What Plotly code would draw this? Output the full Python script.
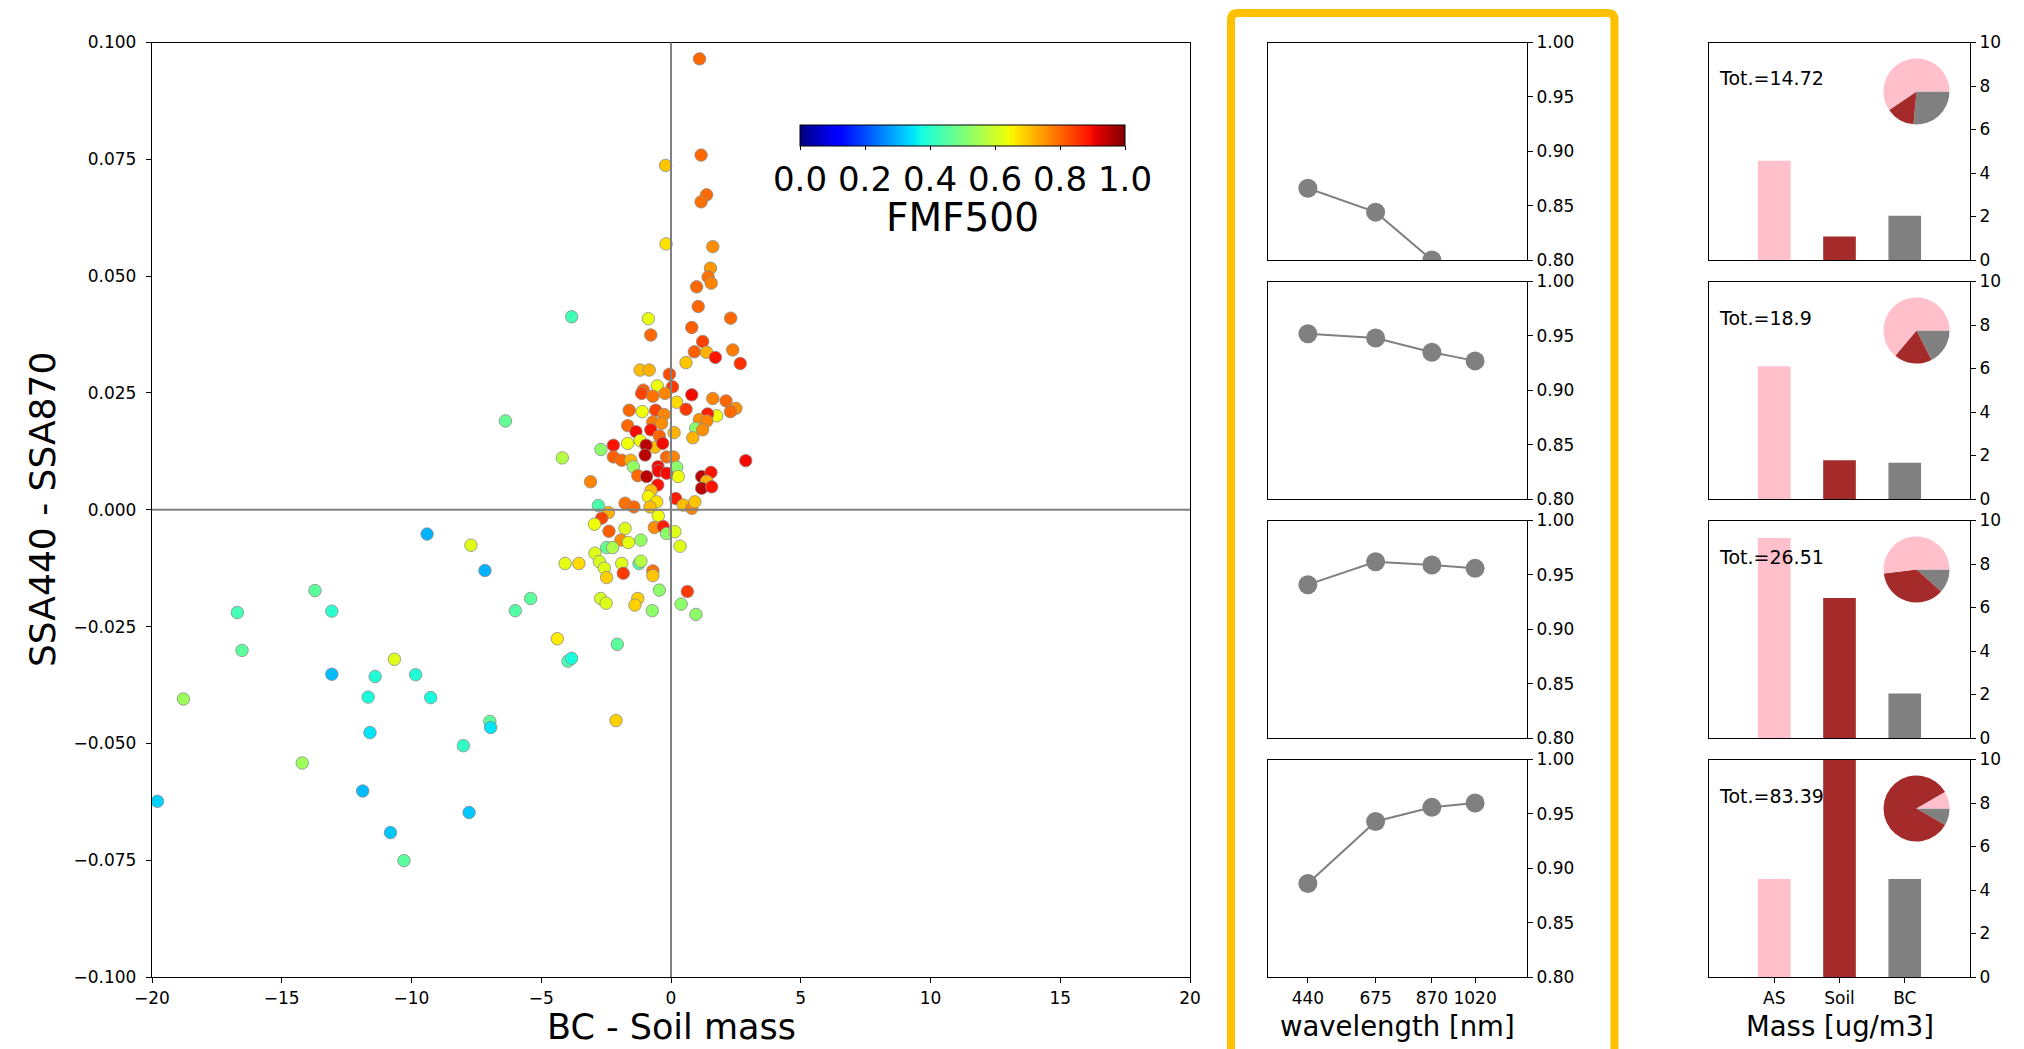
import numpy as np
import plotly.graph_objects as go

# ---------------- data ----------------
# Scatter: BC - Soil mass (x), SSA440 - SSA870 (y), coloured by FMF500
bc_minus_soil = [
    1.10, -0.21, 1.16, 1.37, 1.16, -0.19, 1.61, 1.52, 1.43, 1.55, 0.99,
    -0.87, -0.78, 1.05, 2.30, 0.80, 1.22, 0.90, 1.37, 1.71, 2.38, 2.67, 0.58,
    -1.19, -0.84, -0.06, -0.53, 0.06, -1.07, -1.13, -0.70, -0.23, 0.80, 0.22,
    1.61, 2.12, 2.50, 2.29, 0.58, -1.61, -1.11, -0.59, -0.27, 1.76, 1.41, 1.09,
    1.38, -0.70, -0.36, -1.67, 0.95, 1.22, 0.12, 0.84, -1.35, -0.78, -0.45,
    -1.19, -1.67, -2.22, -2.70, -0.62, -0.96, -0.32, -2.22, -1.90, -1.55, -1.00,
    -0.17, 0.09, 2.88, 0.22, -1.45, -0.50,
    -1.28, -0.94, -0.49, -0.51, 0.28, -0.17, 1.18, 1.54, 1.37, 1.18, 1.57,
    -0.77, -0.87, -0.55, -0.81, -1.77, -1.43, -2.41, -2.67, -2.95, -2.39, -1.77,
    -1.93, -1.64, -1.16, -2.48, -2.25, -0.49, -0.64, -0.30, -0.17, 0.15, 0.35,
    0.18, 0.47, 0.80, 0.92, -2.93, -4.08, -3.55, -2.76, -2.57, -2.48, -1.90,
    -1.84, -1.23, -1.16, -0.70, -0.70, -0.45, 0.63, -2.71, -2.50, -1.28, -1.39,
    -0.72, 0.39, 0.96,
    -3.83, -6.38, -4.19, -3.10, -2.80, -9.40, -7.71, -7.17, -13.72, -16.71,
    -13.07, -16.53, -5.41, -6.00, -4.38, -2.07, -3.97, -3.83, -10.66, -13.07,
    -11.40, -9.84, -18.79, -11.67, -9.26, -6.98, -6.95, -2.12, -11.60, -8.00,
    -14.21, -11.88, -19.79, -7.78, -10.81, -10.29,
]
ssa440_minus_ssa870 = [
    0.0965, 0.0737, 0.0759, 0.0674, 0.0659, 0.0569, 0.0563, 0.0517, 0.0498, 0.0485, 0.0477,
    0.0409, 0.0374, 0.0435, 0.0410, 0.0390, 0.0360, 0.0338, 0.0337, 0.0326, 0.0342, 0.0313, 0.0315,
    0.0299, 0.0299, 0.0290, 0.0265, 0.0263, 0.0256, 0.0249, 0.0243, 0.0249, 0.0246, 0.0230,
    0.0238, 0.0233, 0.0217, 0.0210, 0.0215, 0.0213, 0.0210, 0.0213, 0.0204, 0.0201, 0.0205, 0.0193,
    0.0190, 0.0188, 0.0185, 0.0180, 0.0174, 0.0171, 0.0165, 0.0154, 0.0167, 0.0171, 0.0158,
    0.0148, 0.0142, 0.0138, 0.0129, 0.0134, 0.0138, 0.0142, 0.0113, 0.0106, 0.0106, 0.0117,
    0.0113, 0.0113, 0.0105, 0.0091, 0.0092, 0.0092,
    0.0073, 0.0071, 0.0083, 0.0053, 0.0071, 0.0078, 0.0071, 0.0080, 0.0061, 0.0046, 0.0049,
    0.0041, 0.0028, 0.0017, 0.0006, 0.0014, 0.0006, -0.0006, -0.0018, -0.0031, -0.0046, -0.0040,
    -0.0065, -0.0070, -0.0065, -0.0081, -0.0081, -0.0013, -0.0038, -0.0036, -0.0051, -0.0047, -0.0078,
    0.0024, 0.0010, 0.0003, 0.0017, -0.0093, -0.0115, -0.0115, -0.0111, -0.0125, -0.0145, -0.0115,
    -0.0136, -0.0115, -0.0110, -0.0131, -0.0141, -0.0172, -0.0175, -0.0190, -0.0200, -0.0190, -0.0204,
    -0.0216, -0.0202, -0.0224,
    0.0413, 0.0190, 0.0111, 0.0060, 0.0009, -0.0052, -0.0076, -0.0130, -0.0173, -0.0220,
    -0.0217, -0.0301, -0.0190, -0.0216, -0.0276, -0.0288, -0.0324, -0.0318, -0.0320, -0.0352,
    -0.0357, -0.0353, -0.0405, -0.0401, -0.0402, -0.0453, -0.0466, -0.0451, -0.0477, -0.0505,
    -0.0542, -0.0602, -0.0624, -0.0648, -0.0691, -0.0751,
]
fmf500 = [
    0.80, 0.70, 0.80, 0.80, 0.79, 0.67, 0.76, 0.75, 0.79, 0.77, 0.80,
    0.63, 0.80, 0.80, 0.80, 0.81, 0.84, 0.81, 0.72, 0.89, 0.78, 0.86, 0.70,
    0.71, 0.72, 0.83, 0.64, 0.85, 0.81, 0.84, 0.79, 0.77, 0.90, 0.68,
    0.77, 0.80, 0.76, 0.80, 0.85, 0.80, 0.64, 0.84, 0.77, 0.64, 0.88, 0.76,
    0.77, 0.78, 0.76, 0.80, 0.52, 0.76, 0.72, 0.72, 0.90, 0.89, 0.80,
    0.64, 0.64, 0.89, 0.52, 0.71, 0.95, 0.90, 0.81, 0.80, 0.72, 0.95,
    0.80, 0.77, 0.90, 0.52, 0.53, 0.90,
    0.80, 0.95, 0.90, 0.89, 0.64, 0.90, 0.95, 0.89, 0.72, 0.95, 0.89,
    0.71, 0.65, 0.67, 0.71, 0.79, 0.80, 0.72, 0.84, 0.64, 0.81, 0.62,
    0.76, 0.63, 0.53, 0.47, 0.56, 0.64, 0.76, 0.88, 0.52, 0.62, 0.62,
    0.88, 0.71, 0.77, 0.70, 0.62, 0.63, 0.68, 0.61, 0.62, 0.69, 0.62,
    0.85, 0.44, 0.57, 0.79, 0.70, 0.52, 0.85, 0.61, 0.62, 0.69, 0.69,
    0.52, 0.52, 0.52,
    0.43, 0.47, 0.57, 0.77, 0.44, 0.30, 0.62, 0.30, 0.46, 0.43,
    0.40, 0.46, 0.46, 0.45, 0.66, 0.46, 0.44, 0.38, 0.62, 0.31,
    0.39, 0.39, 0.54, 0.38, 0.38, 0.46, 0.35, 0.69, 0.35, 0.41,
    0.54, 0.31, 0.33, 0.32, 0.32, 0.46,
]

# Spectral SSA for four example cases
wavelengths = [440, 675, 870, 1020]
ssa_case1 = [0.866, 0.844, 0.800, 0.780]
ssa_case2 = [0.952, 0.948, 0.935, 0.927]
ssa_case3 = [0.941, 0.962, 0.959, 0.956]
ssa_case4 = [0.886, 0.943, 0.956, 0.960]
ssa_cases = [ssa_case1, ssa_case2, ssa_case3, ssa_case4]

# Mass of each component for the same four cases
components = ["AS", "Soil", "BC"]
mass_as = [4.56, 6.10, 9.19, 4.50]
mass_soil = [1.08, 1.78, 6.44, 45.0]
mass_bc = [2.03, 1.67, 2.05, 4.50]
mass_total = [14.72, 18.9, 26.51, 83.39]
component_colors = ["#FFC0CB", "#A52A2A", "#808080"]

# ---------------- layout helpers ----------------
W, H = 2024, 1049
FONT = "DejaVu Sans"


def px_x(v):
    return v / W


def px_y(v):
    return 1 - v / H


def jet_colorscale():
    red = [(0, 0), (0.35, 0), (0.66, 1), (0.89, 1), (1, 0.5)]
    green = [(0, 0), (0.125, 0), (0.375, 1), (0.64, 1), (0.91, 0), (1, 0)]
    blue = [(0, 0.5), (0.11, 1), (0.34, 1), (0.65, 0), (1, 0)]
    stops = sorted({p for ch in (red, green, blue) for p, _ in ch})

    def chan(ch, t):
        return float(np.interp(t, [p for p, _ in ch], [v for _, v in ch]))

    scale = []
    for t in stops:
        r, g, b = (round(255 * chan(c, t)) for c in (red, green, blue))
        scale.append([t, f"rgb({r},{g},{b})"])
    return scale


main_x = [152, 1190]
main_y = [42.5, 977]
mid_x = [1267.5, 1527]
right_x = [1709, 1970]
panel_h = 217.5
panel_step = 239.0
panel_tops = [42.5 + i * panel_step for i in range(4)]

fig = go.Figure()

axis_common = dict(
    showline=True, mirror=True, linecolor="black", linewidth=1.3,
    showgrid=False, zeroline=False, ticks="outside", ticklen=5,
    tickwidth=1.2, tickcolor="black", automargin=False,
    tickfont=dict(family=FONT, size=17, color="black"),
)

# ---------------- main scatter ----------------
fig.add_trace(go.Scatter(
    x=bc_minus_soil, y=ssa440_minus_ssa870, mode="markers",
    marker=dict(
        size=12.5, color=fmf500, cmin=0, cmax=1, colorscale=jet_colorscale(),
        line=dict(color="#8a8a8a", width=0.8),
        colorbar=dict(
            orientation="h", x=px_x(962.5), xanchor="center",
            y=px_y(125), yanchor="top", len=325, lenmode="pixels",
            thickness=21, thicknessmode="pixels", xpad=0, ypad=0,
            outlinecolor="black", outlinewidth=1,
            ticks="outside", ticklen=4, tickcolor="black",
            tickvals=[0, 0.2, 0.4, 0.6, 0.8, 1.0], tickformat=".1f",
            tickfont=dict(family=FONT, size=34, color="black"),
        ),
    ),
    xaxis="x", yaxis="y", showlegend=False,
))

layout = dict(
    xaxis=dict(axis_common, domain=[px_x(main_x[0]), px_x(main_x[1])],
               range=[-20, 20], tickvals=[-20, -15, -10, -5, 0, 5, 10, 15, 20],
               anchor="y"),
    yaxis=dict(axis_common, domain=[px_y(main_y[1]), px_y(main_y[0])],
               range=[-0.1, 0.1], dtick=0.025, tickformat=".3f",
               ticklabelstandoff=6, anchor="x"),
)

shapes = [
    dict(type="line", xref="x", yref="y domain", x0=0, x1=0, y0=0, y1=1,
         line=dict(color="#808080", width=2), layer="above"),
    dict(type="line", xref="x domain", yref="y", x0=0, x1=1, y0=0, y1=0,
         line=dict(color="#808080", width=2), layer="above"),
]


def title_note(text, cx, cy, size, angle=0):
    return dict(text=text, xref="paper", yref="paper", x=px_x(cx), y=px_y(cy),
                xanchor="center", yanchor="middle", showarrow=False,
                textangle=angle, font=dict(family=FONT, size=size, color="black"))


annotations = [
    title_note("BC - Soil mass", 671, 1027, 35),
    title_note("SSA440 - SSA870", 42, 510, 36, angle=-90),
    title_note("wavelength [nm]", 1397, 1026, 27.5),
    title_note("Mass [ug/m3]", 1839.5, 1026, 27.5),
    title_note("FMF500", 962.5, 218, 39),
]

# ---------------- spectral SSA panels ----------------
for i, ssa in enumerate(ssa_cases):
    n = i + 2
    xa, ya = f"x{n}", f"y{n}"
    top = panel_tops[i]
    fig.add_trace(go.Scatter(
        x=wavelengths, y=ssa, mode="lines+markers",
        line=dict(color="#808080", width=2),
        marker=dict(size=19, color="#808080"),
        xaxis=xa, yaxis=ya, showlegend=False,
    ))
    last = i == 3
    layout[f"xaxis{n}"] = dict(
        axis_common, domain=[px_x(mid_x[0]), px_x(mid_x[1])],
        range=[300, 1200], anchor=ya,
        tickvals=wavelengths if last else [],
        showticklabels=last, ticks="outside" if last else "",
    )
    layout[f"yaxis{n}"] = dict(
        axis_common, domain=[px_y(top + panel_h), px_y(top)],
        range=[0.8, 1.0], dtick=0.05, tickformat=".2f", side="right",
        anchor=xa,
    )

# ---------------- mass panels ----------------
for i in range(4):
    n = i + 6
    xa, ya = f"x{n}", f"y{n}"
    top = panel_tops[i]
    values = [mass_as[i], mass_soil[i], mass_bc[i]]
    fig.add_trace(go.Bar(
        x=components, y=values, width=0.5,
        marker=dict(color=component_colors, line=dict(width=0)),
        xaxis=xa, yaxis=ya, showlegend=False,
    ))
    last = i == 3
    layout[f"xaxis{n}"] = dict(
        axis_common, domain=[px_x(right_x[0]), px_x(right_x[1])],
        type="category", categoryorder="array", categoryarray=components,
        range=[-1, 3], anchor=ya,
        showticklabels=last, ticks="outside" if last else "",
    )
    layout[f"yaxis{n}"] = dict(
        axis_common, domain=[px_y(top + panel_h), px_y(top)],
        range=[0, 10], dtick=2, side="right", anchor=xa,
    )
    # composition pie, slices laid out counter-clockwise from 3 o'clock
    # (drawn clockwise in reverse order)
    cx, cy, r = 1916.5, top + 49, 33
    fig.add_trace(go.Pie(
        values=values[::-1], labels=components[::-1], sort=False,
        direction="clockwise", rotation=90,
        marker=dict(colors=component_colors[::-1], line=dict(width=0)),
        textinfo="none", hoverinfo="label+value", showlegend=False,
        domain=dict(x=[px_x(cx - r), px_x(cx + r)],
                    y=[px_y(cy + r), px_y(cy - r)]),
    ))
    annotations.append(dict(
        text=f"Tot.={mass_total[i]}", xref="paper", yref="paper",
        x=px_x(1717), y=px_y(top + 36), xanchor="left", yanchor="middle",
        showarrow=False, font=dict(family=FONT, size=19, color="black"),
    ))

# highlight frame around the spectral panels (open at the bottom)
fx0, fx1, fy_top, rad = 1231, 1614.5, 13, 7
frame_path = (
    f"M {px_x(fx0)},{px_y(1070)} L {px_x(fx0)},{px_y(fy_top + rad)} "
    f"Q {px_x(fx0)},{px_y(fy_top)} {px_x(fx0 + rad)},{px_y(fy_top)} "
    f"L {px_x(fx1 - rad)},{px_y(fy_top)} "
    f"Q {px_x(fx1)},{px_y(fy_top)} {px_x(fx1)},{px_y(fy_top + rad)} "
    f"L {px_x(fx1)},{px_y(1070)}"
)
shapes.append(dict(type="path", xref="paper", yref="paper", path=frame_path,
                   line=dict(color="#FFC000", width=8), layer="above"))

fig.update_layout(
    width=W, height=H, autosize=False,
    margin=dict(l=0, r=0, t=0, b=0, autoexpand=False),
    paper_bgcolor="white", plot_bgcolor="white",
    font=dict(family=FONT, color="black"),
    shapes=shapes, annotations=annotations,
    **layout,
)

fig.write_html("out.html")
